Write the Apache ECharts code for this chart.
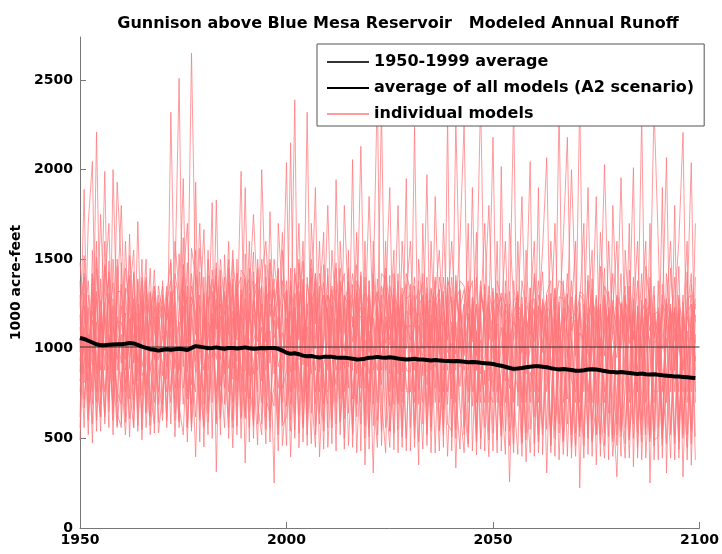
<!DOCTYPE html>
<html>
<head>
<meta charset="utf-8">
<script src="https://cdn.jsdelivr.net/npm/echarts@6/dist/echarts.min.js"></script>
<style>
html,body{margin:0;padding:0;background:#fff;}
#chart{width:722px;height:554px;}
</style>
</head>
<body>
<div id="chart"></div>
<script>
const TITLE = 'Gunnison above Blue Mesa Reservoir   Modeled Annual Runoff';
const Y_NAME = '1000 acre-feet';
const FIRST_YEAR = 1950;
const X_TICKS = [1950, 2000, 2050, 2100];
const Y_TICKS = [0, 500, 1000, 1500, 2000, 2500];
const LEGEND_NAMES = ['1950-1999 average', 'average of all models (A2 scenario)', 'individual models'];

// 1950-1999 average (horizontal reference)
const baselineAvg = 1010;

// average of all models (A2 scenario), 1950..2099
const modelAverage = [
1060,1055,1045,1035,1025,1020,1020,1022,1024,1025,
1025,1028,1032,1030,1022,1012,1005,998,995,990,
995,998,995,998,1000,997,993,1005,1015,1012,
1008,1003,1005,1008,1003,1000,1004,1005,1002,1005,
1008,1003,1000,1002,1005,1003,1005,1004,1000,990,
978,972,975,970,962,958,960,955,952,955,
955,955,952,950,950,948,945,940,942,945,
950,952,955,952,950,953,950,946,943,940,
942,944,940,940,938,935,937,935,933,932,
930,932,930,928,925,926,925,922,920,918,
915,910,905,900,893,888,890,893,897,900,
902,903,900,897,892,888,885,887,885,882,
878,877,880,884,886,884,880,876,872,870,
868,870,868,865,862,860,862,858,856,858,
855,852,850,848,846,845,843,841,839,837];

// individual models, 1950..2099 (one row per decade)
const model1 = [
1380,720,980,1210,860,1040,1990,760,1130,940,
1080,760,1640,920,1130,610,1250,880,1010,760,
1100,1350,880,720,1230,1950,760,1010,397,1180,
1665,880,1200,760,1080,1400,620,1170,930,1300,
363,1200,1050,880,1340,760,1765,1020,430,1160,
2040,760,1200,940,1350,700,1190,1900,640,1100,
1800,1010,700,1230,440,1100,1280,860,1400,352,
1100,307,1240,880,1600,760,1180,1040,450,1300,
1600,880,1130,700,1290,420,1180,1040,1320,760,
1120,335,1080,1250,760,1900,880,1150,430,1180,
2180,760,1020,1160,257,1100,1300,700,960,1250,
1600,700,1050,1180,420,1280,880,1100,1300,390,
1000,2400,760,1120,400,1230,880,1080,1200,700,
285,1100,1300,760,1200,1600,880,1060,1250,2350,
1600,760,1150,1030,380,1200,880,1240,2039,700];
const model2 = [
980,1890,640,870,1320,760,1180,1020,690,1250,
1800,1010,720,1190,860,1300,720,1100,1440,980,
920,760,2320,1100,880,1170,1290,690,1050,860,
760,1550,950,1280,700,1060,1600,830,1350,990,
1900,850,1270,1120,700,1350,920,1500,1260,780,
870,2150,640,1320,480,1250,860,1060,1600,780,
760,1550,1190,880,1300,460,970,1650,780,1120,
1850,1120,700,1300,880,1410,436,1230,1080,780,
760,2240,690,1250,1010,1150,419,1220,880,1200,
1600,1100,680,420,1200,900,1320,2400,1040,700,
880,1600,430,1020,1190,2350,680,1120,369,870,
760,1900,410,1100,1240,880,2350,700,960,1200,
1600,223,1150,880,1100,1850,700,390,980,1220,
1600,700,390,1280,860,1030,2300,700,1700,760,
760,1900,307,1210,1100,760,1300,380,1050,1250];
const model3 = [
1120,860,1700,2045,700,1180,880,1310,950,760,
690,1600,1050,800,1710,900,1020,1450,760,1200,
1350,1080,580,1380,2510,780,980,1350,1200,700,
1200,1010,1816,313,1250,860,1130,1550,760,1180,
1020,1600,640,1500,1180,980,1100,251,1700,1300,
1240,1010,2390,447,1120,900,1400,760,1010,1370,
1120,470,1944,1050,890,1380,720,1100,2130,960,
760,1350,2450,460,1150,1020,1270,690,1600,1120,
1130,1020,352,1700,870,1340,1050,760,1700,1060,
760,2280,1240,980,1700,430,1100,700,1300,1800,
1100,420,2017,700,1250,870,1150,1850,1010,700,
1150,1020,1260,307,1100,1700,980,1230,400,1050,
700,1250,1700,410,1300,760,1650,1180,380,1800,
1150,1955,1010,390,1100,880,1250,1600,251,1080,
1150,390,1230,1600,880,1300,285,1100,760,1700];
const model4 = [
490,1240,1050,760,2210,940,620,1150,1370,880,
1240,880,1310,1550,700,1130,1500,620,1180,531,
760,1200,1140,508,1040,1380,1700,880,760,1430,
930,520,1320,1110,1500,1230,890,1080,1420,620,
1280,480,1380,760,2000,1210,480,1160,900,1010,
460,1300,880,1120,1600,460,1700,1230,870,1020,
1300,1210,430,1600,1160,780,2056,690,1020,1350,
1230,880,1060,2350,760,450,1050,1800,870,1950,
430,1230,1150,1000,1972,740,1850,1130,450,2300,
430,1200,1600,2260,880,1250,408,1200,1700,960,
430,1250,1180,1600,880,420,1600,980,1240,2045,
400,1180,1550,2067,860,400,1150,1600,2180,880,
400,1090,1040,1900,880,1080,1200,2028,1150,860,
880,400,1550,1150,2011,390,1050,1230,1100,1200,
380,1200,2067,760,1800,390,1150,1600,350,1080];
const model5 = [
1250,960,820,1390,1040,1750,1110,560,2000,1090,
920,1200,508,1060,1250,850,910,1270,940,1350,
1180,900,1320,1180,680,520,1100,2650,1320,980,
1080,1290,700,1830,880,560,1370,960,1100,1990,
760,1310,1750,1260,980,470,1390,860,1070,1650,
1100,397,1080,1700,910,2320,770,450,1260,1650,
450,880,1330,720,1800,1230,1040,1310,430,1600,
440,1600,1120,1010,1280,1900,780,1110,1340,430,
1250,450,1500,1180,680,1600,960,430,1210,880,
1270,760,440,1100,1350,1060,1650,440,880,397,
1260,1000,760,410,1700,1240,880,400,1160,1080,
1230,420,900,1020,1600,1100,380,980,1200,2000,
1280,880,390,1230,1550,352,1060,760,1600,1080,
1300,1230,880,1700,341,1240,380,960,1290,380,
1230,1080,880,390,1260,1600,2207,760,1180,380];
const model6 = [
870,1420,1150,475,1280,880,1350,1700,820,1930,
1460,620,1170,710,980,1500,800,1030,1290,870,
600,1290,970,1600,1310,1060,480,1180,930,1240,
452,1150,1080,940,1300,1130,500,1390,820,1240,
1190,1040,920,464,1410,1600,1180,1330,640,890,
1380,980,1310,760,1240,1030,470,1380,397,910,
1040,1350,960,1380,760,1550,450,1190,1180,780,
1380,760,450,1200,1030,1130,1550,420,1200,1070,
980,1300,890,440,1170,1030,1290,1550,1060,400,
980,1320,1150,700,450,1280,960,1320,1150,1260,
760,1180,1310,1240,930,760,410,1290,780,420,
980,1300,1140,760,1050,1340,1060,410,880,1180,
1150,1300,1270,760,980,1240,400,1300,860,400,
760,1080,1200,1030,1230,760,1230,390,880,1300,
880,1300,1010,1250,760,1080,760,1280,1300,1030];
const model7 = [
1060,560,1300,980,760,1270,930,890,1180,640,
560,1340,890,1280,540,1040,1380,760,580,1130,
1240,560,1210,890,1530,900,1350,540,1930,620,
1310,760,1440,1160,520,1525,1010,447,1200,880,
880,1450,500,1350,820,1090,760,680,1450,460,
760,1450,500,1270,700,1400,1100,880,1130,440,
1230,690,1170,520,1230,900,1360,420,960,1230,
980,1230,1320,720,420,1300,900,1380,760,1420,
1320,760,1280,1370,460,1190,700,1280,760,1380,
1310,880,1380,1350,1150,760,1230,980,700,1090,
1340,880,560,1090,620,1380,1050,480,1550,1010,
1420,860,520,1310,1380,590,1290,1280,1080,540,
880,540,960,1410,600,900,1460,960,1230,520,
1200,560,760,1440,1050,1380,600,1280,520,1040,
1040,560,1420,1100,1230,520,1260,960,560,1400];
const model8 = [
760,1120,520,1160,980,540,1470,1240,520,1150,
1150,940,1410,1010,1390,492,1120,1320,1100,1000,
980,1100,760,1260,560,1470,870,1420,1080,1700,
1020,1380,500,1370,1120,900,1240,1300,520,1440,
1400,720,1190,1040,1250,880,1500,1280,1110,1380,
1130,870,1450,1050,1380,780,1310,1000,1420,1240,
880,1120,1450,1110,990,1270,880,1380,1300,640,
1190,1000,880,1420,1390,860,1230,960,1160,880,
870,1180,960,1080,1400,880,1320,970,1400,1150,
860,1150,900,1060,1290,1380,700,1280,1250,880,
960,1310,1200,880,1320,1050,1210,1180,700,1340,
620,1120,1430,900,540,1200,580,1050,1420,1100,
1230,560,1200,1010,1390,520,1030,1450,640,960,
1030,1420,560,880,1400,600,760,1460,1240,540,
1380,540,760,1450,1040,1220,520,1200,1420,760];
const model9 = [
1300,810,1230,690,1510,1100,760,980,1240,570,
870,520,960,1420,820,1260,560,980,1230,690,
1300,830,1480,1030,1150,690,1200,960,620,1050,
880,1060,1170,690,1400,780,1180,700,1260,500,
1060,1160,1430,690,520,1400,1020,940,780,1090,
990,1210,780,1500,1040,1120,640,1280,760,1060,
1410,960,800,1290,1420,640,1180,950,700,1180,
700,1420,1180,940,1120,1180,690,1250,930,1210,
1190,1400,770,1300,1120,680,1100,1330,1010,690,
1150,970,1320,880,1020,1100,1400,860,960,1350,
1150,700,870,1310,1060,920,760,1380,1200,760,
1100,1380,980,1230,1200,980,1200,880,720,1290,
1040,560,860,1380,480,690,1180,560,1060,1420,
580,1180,1350,520,760,980,1420,560,1060,1350,
560,1360,1180,540,960,1460,600,880,1360,1150];
const model10 = [
930,1310,890,1420,600,1390,580,1080,870,1320,
1320,1100,780,560,1200,740,1180,520,850,1260,
850,1320,1050,780,900,1240,720,1560,1400,480,
1400,700,880,1240,940,1320,760,1210,1050,1100,
620,980,860,1230,1500,1040,1250,1180,1300,700,
1300,690,1140,870,760,1360,1230,690,1180,830,
690,1300,1260,940,670,1160,1420,1200,1230,900,
1300,690,1390,1120,960,680,1420,860,1300,760,
760,960,1380,850,1260,1270,780,1160,660,1300,
720,1410,1000,1250,1380,680,1060,1380,1120,760,
700,1380,1270,960,780,1270,1290,730,1100,1200,
880,760,1200,1050,1000,1240,1380,1360,1090,830,
760,1320,1300,700,1050,1300,880,1350,1280,880,
1280,540,960,1350,580,1230,1000,520,1400,1060,
1200,520,1060,1030,1400,600,960,1430,540,960];
const model11 = [
1190,670,1080,910,1150,690,1260,700,1500,1010,
760,1450,1230,930,1060,1380,650,1200,1350,940,
1070,960,700,1420,1260,1010,1480,800,1150,1300,
690,1220,1390,1000,1180,980,1450,890,1500,760,
1330,1390,1100,970,1120,720,640,790,990,1250,
680,1380,960,1180,1490,640,1020,1420,900,1300,
1180,780,1060,1450,1100,1010,790,700,1080,1400,
1040,1170,960,1260,1410,1240,1010,1150,700,1130,
1050,1130,1200,1130,800,1080,1400,700,1150,1050,
1400,1060,790,1190,700,1200,880,1050,800,1230,
1040,1140,680,1220,1160,700,990,1250,860,1000,
1400,1000,560,870,1310,540,900,1380,580,1060,
1300,700,1080,1150,1330,1010,1250,700,1010,1240,
1100,1000,1290,700,1280,760,1180,1020,1330,700,
960,1230,700,1150,880,1280,1100,700,1000,1280];
const model12 = [
820,1050,760,1280,890,1150,990,1430,760,1180,
1010,810,1100,1250,920,1090,1300,900,700,1180,
1280,1160,1260,950,780,1310,1030,1250,870,910,
1170,940,1060,1450,790,1210,1080,1360,680,1330,
970,650,1240,1400,890,1280,1320,1060,1180,940,
1170,1050,1230,630,1100,1180,1500,1140,1310,690,
960,1240,880,1010,1260,1350,1120,1470,850,1050,
860,970,1230,800,1180,1050,1340,700,1250,1000,
1280,700,1010,960,1340,950,900,1400,1240,980,
1030,700,1210,960,1180,1040,1250,760,1350,1050,
1200,920,1120,820,1040,1150,1100,1040,1290,1130,
1040,1230,1180,1280,880,1100,1050,1180,950,1380,
960,1210,890,1000,700,1150,960,1100,1320,1050,
950,1260,1040,1180,880,1150,950,1180,1020,1150,
1100,1000,1280,880,1200,1010,880,1180,1100,880];
const model13 = [
1480,1210,600,1550,820,620,1600,1080,640,1500,
990,590,1520,1180,650,1400,870,570,1350,1120,
640,1300,1500,600,940,1620,560,1180,1550,790,
570,1500,1150,600,1440,920,560,1500,1270,610,
1530,840,580,1450,1160,550,1480,980,520,1550,
1010,540,1420,1260,560,1080,1450,520,920,1470,
560,1230,1480,590,880,1450,520,1100,1410,500,
1380,940,520,1180,1450,540,860,1420,510,1100,
1360,500,1020,1420,530,1160,1380,540,840,1340,
510,1380,1080,520,1300,900,480,1350,1130,490,
1320,820,510,1380,1050,470,1300,960,490,1340,
930,480,1280,1060,460,1330,800,490,1290,1010,
460,1250,980,500,1300,760,470,1280,1040,480,
1290,860,470,1240,1000,450,1270,790,480,1230,
950,460,1260,1040,470,1210,820,450,1250,930];
const model14 = [
620,1520,940,580,1450,1160,640,1490,890,560,
1480,1050,610,1430,570,1160,1400,630,940,1300,
1120,620,1320,890,590,1470,1240,570,880,1560,
1260,590,990,1480,620,1080,1500,560,1420,870,
610,1180,1540,580,900,1470,560,1230,1440,590,
1330,980,550,1480,1150,520,980,1420,1180,540,
1450,600,960,1370,500,1190,1330,620,1430,880,
510,1380,1060,540,1340,1130,530,1310,960,500,
1080,1350,480,940,1310,560,1290,1000,520,1400,
1240,500,1330,860,470,1290,1070,500,1360,820,
1020,490,1290,1110,460,910,1320,470,1050,1260,
470,1240,880,1300,460,1010,1260,480,1000,450,
1270,940,460,1200,490,1280,1030,460,1230,850,
460,1250,1020,490,1220,840,480,1190,1000,460,
1200,850,470,1230,960,440,1180,1010,470,1190];
const model15 = [
1250,1400,700,1330,540,1180,1460,650,1280,700,
1360,680,1290,560,1380,1190,640,1310,530,1250,
690,1260,1380,640,1210,1400,560,1290,1180,600,
1290,640,1230,1410,610,1300,1180,600,1330,1400,
650,1310,570,1260,1350,620,1180,1390,560,1280,
1320,600,1270,1370,580,1240,1290,570,1350,600,
1220,1330,580,1260,610,1370,530,1240,1300,570,
1280,570,1310,1200,560,1350,1240,550,1290,1360,
560,1250,1330,580,1300,540,1260,1330,560,1230,
1290,550,1230,1330,530,1280,560,1300,1200,540,
1240,1310,520,1250,540,1200,1300,530,1240,550,
1220,540,1270,1180,510,1290,530,1240,1310,520,
1200,510,1250,530,1280,1180,520,1230,510,1270,
520,1230,1160,510,1250,530,1200,1280,500,1190,
1210,500,1260,1180,510,1230,500,1200,1250,510];
const model16 = [
560,1150,1380,980,1600,620,1240,1390,600,1460,
580,1300,1400,660,1330,550,1350,1130,1320,590,
1380,600,1260,1350,600,1330,1180,560,1410,1230,
560,1410,1300,580,1350,690,1430,1280,570,1250,
1390,560,1330,1380,580,1310,600,1230,1380,570,
620,1350,1180,530,1390,600,1260,1330,580,1230,
1300,560,1380,600,1290,1250,570,1330,580,1310,
560,1320,600,1350,1260,540,1300,1240,560,1280,
1300,560,1240,1290,520,1330,1200,550,1300,580,
540,1280,1330,560,1250,1190,520,1240,560,1300,
530,1240,1280,540,1210,560,1250,1190,530,1260,
1280,520,1220,550,1270,500,1230,520,1250,1180,
530,1260,510,1230,1180,520,1250,530,1220,500,
1240,510,1260,1190,500,1230,520,1200,1250,490,
510,1250,1190,520,1230,480,1210,520,1180,1230];

const models = [model1, model2, model3, model4, model5, model6, model7, model8,
                model9, model10, model11, model12, model13, model14, model15, model16];

const FONT = 'DejaVu Sans, Liberation Sans, Arial, sans-serif';
const pairs = arr => arr.map((v, i) => [FIRST_YEAR + i, v]);

const series = [];
models.forEach(m => {
  series.push({
    name: LEGEND_NAMES[2], type: 'line', data: pairs(m),
    symbol: 'none', silent: true, z: 2,
    lineStyle: { color: '#ff7478', width: 1, opacity: 0.72 },
    itemStyle: { color: '#ff9a9c' }
  });
});
series.push({
  name: LEGEND_NAMES[0], type: 'line', symbol: 'none', z: 3,
  data: [[X_TICKS[0], baselineAvg], [X_TICKS[X_TICKS.length - 1], baselineAvg]],
  lineStyle: { color: '#333', width: 1 }, itemStyle: { color: '#555' }
});
series.push({
  name: LEGEND_NAMES[1], type: 'line', symbol: 'none', z: 4,
  data: pairs(modelAverage),
  lineStyle: { color: '#000', width: 4 }, itemStyle: { color: '#000' }
});

const chart = echarts.init(document.getElementById('chart'), null, { renderer: 'canvas' });
chart.setOption({
  animation: false,
  backgroundColor: '#fff',
  title: {
    text: TITLE, left: 393, top: 11, textAlign: 'center',
    textStyle: { fontFamily: FONT, fontSize: 16, fontWeight: 'bold', color: '#000' }
  },
  legend: {
    data: LEGEND_NAMES, orient: 'vertical', left: 317, top: 44,
    padding: [10, 10, 4, 9], itemGap: 10,
    itemWidth: 42, itemHeight: 14,
    itemStyle: { opacity: 0 },
    backgroundColor: '#fff', borderColor: '#555', borderWidth: 1,
    textStyle: { fontFamily: FONT, fontSize: 16, fontWeight: 'bold', color: '#000' },
    selectedMode: false
  },
  grid: { left: 80, right: 18, top: 37, bottom: 26 },
  xAxis: {
    type: 'value', min: 1950, max: 2100, interval: 50,
    axisLine: { lineStyle: { color: '#777', width: 1 } },
    axisTick: { inside: true, length: 6, lineStyle: { color: '#777' } },
    splitLine: { show: false },
    axisLabel: { margin: 5, fontFamily: FONT, fontSize: 14, fontWeight: 'bold', color: '#000',
      formatter: v => String(v) }
  },
  yAxis: {
    type: 'value', min: 0, max: 2740,
    name: Y_NAME, nameLocation: 'middle', nameGap: 56, nameRotate: 90,
    nameTextStyle: { fontFamily: FONT, fontSize: 14, fontWeight: 'bold', color: '#000' },
    axisLine: { show: true, lineStyle: { color: '#777', width: 1 } },
    axisTick: { show: true, inside: true, length: 6, customValues: Y_TICKS, lineStyle: { color: '#777' } },
    splitLine: { show: false },
    axisLabel: {
      margin: 7, fontFamily: FONT, fontSize: 14, fontWeight: 'bold', color: '#000',
      customValues: Y_TICKS, formatter: v => String(v)
    }
  },
  series: series
});
</script>
</body>
</html>
